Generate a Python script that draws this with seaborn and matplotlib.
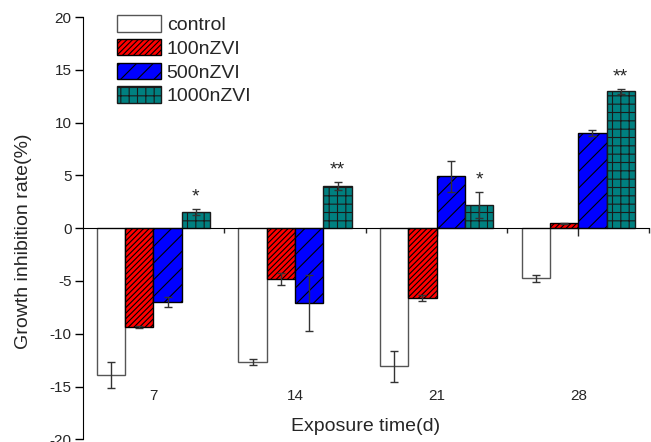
import numpy as np
import pandas as pd
import seaborn as sns
import matplotlib
matplotlib.use("Agg")
import matplotlib.pyplot as plt

# data
days = ["7", "14", "21", "28"]
groups = ["control", "100nZVI", "500nZVI", "1000nZVI"]
control = [-13.9, -12.7, -13.1, -4.75]
nzvi100 = [-9.35, -4.8, -6.65, 0.45]
nzvi500 = [-7.0, -7.1, 4.9, 9.0]
nzvi1000 = [1.5, 4.0, 2.2, 12.95]
err_control = [1.2, 0.3, 1.5, 0.3]
err_100 = [0.1, 0.6, 0.28, 0.05]
err_500 = [0.5, 2.65, 1.5, 0.3]
err_1000 = [0.28, 0.38, 1.2, 0.2]
stars = ["*", "**", "*", "**"]

colors = ["white", "#FF0000", "#0000FF", "#008080"]
hatches = ["", "//////", "//", "++"]
edges = ["#555555", "black", "black", "#1a1a1a"]

df = pd.DataFrame({
    "day": days * 4,
    "group": np.repeat(groups, 4),
    "value": control + nzvi100 + nzvi500 + nzvi1000,
})
errs = [err_control, err_100, err_500, err_1000]

sns.set_style("ticks")
plt.rcParams["font.family"] = ["Liberation Sans", "DejaVu Sans"]
plt.rcParams["axes.unicode_minus"] = False
plt.rcParams["hatch.linewidth"] = 0.8

fig = plt.figure(figsize=(6.51, 4.42), dpi=100)
ax = fig.add_axes([0.127, 0.006, 0.87, 0.9555])

sns.barplot(data=df, x="day", y="value", hue="group", order=days, hue_order=groups,
            palette=colors, errorbar=None, width=0.8, saturation=1, ax=ax, legend=False)

bar_sets = list(ax.containers)
for i, cont in enumerate(bar_sets):
    for j, bar in enumerate(cont):
        bar.set_hatch(hatches[i])
        bar.set_edgecolor(edges[i])
        bar.set_linewidth(1.0)
        bar.set_zorder(2)
        xc = bar.get_x() + bar.get_width() / 2
        h = bar.get_height()
        e = errs[i][j]
        ax.errorbar(xc, h, yerr=e, fmt="none", ecolor="#333333", elinewidth=1,
                    capsize=3.2, capthick=1, zorder=3)
        if i == 3:
            ax.text(xc, h + e + 0.35, stars[j], ha="center", va="bottom", fontsize=14)

ax.legend(bar_sets, groups, loc="upper left", bbox_to_anchor=(0.06, 1.004),
          frameon=False, fontsize=14, handlelength=2.27, handleheight=0.91,
          labelspacing=0.25, handletextpad=0.3, borderaxespad=0, borderpad=0)

ax.set_ylim(-20, 20)
ax.set_yticks(np.arange(-20, 21, 5))
ax.set_xlim(-0.5, 3.5)
ax.set_xticks(np.arange(0.5, 4, 1), minor=True)
ax.spines["top"].set_visible(False)
ax.spines["right"].set_visible(False)
ax.spines["bottom"].set_position(("data", 0))
ax.spines["left"].set_color("black")
ax.spines["bottom"].set_color("black")
ax.set_axisbelow(True)

ax.tick_params(axis="y", direction="out", length=6, width=1, pad=2, labelsize=11, color="black")
ax.tick_params(axis="x", which="major", direction="out", length=5.5, width=1, pad=110, labelsize=11)
ax.tick_params(axis="x", which="minor", direction="out", length=3.5, width=1)

ax.set_xlabel("Exposure time(d)", fontsize=14)
ax.set_ylabel("Growth inhibition rate(%)", fontsize=14)
ax.xaxis.set_label_coords(0.5, 0.051)
ax.yaxis.set_label_coords(-0.09, 0.47)

fig.savefig("out.png", dpi=100)
